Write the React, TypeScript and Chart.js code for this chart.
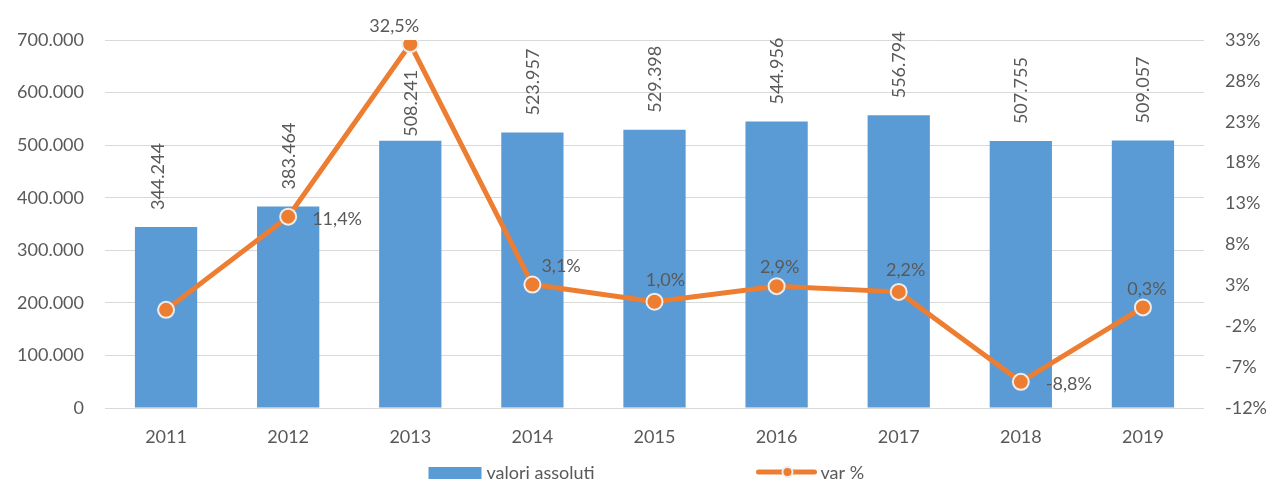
import React, { useEffect, useRef } from "react";
import { Chart, registerables } from "chart.js";

Chart.register(...registerables);

const categories = ["2011", "2012", "2013", "2014", "2015", "2016", "2017", "2018", "2019"];
const valoriAssoluti = [344244, 383464, 508241, 523957, 529398, 544956, 556794, 507755, 509057];
const varPercent = [0, 11.4, 32.5, 3.1, 1.0, 2.9, 2.2, -8.8, 0.3];
const varLabels = ["", "11,4%", "32,5%", "3,1%", "1,0%", "2,9%", "2,2%", "-8,8%", "0,3%"];
const leftTicks = { min: 0, max: 700000, step: 100000 };
const rightTicks = { min: -12, max: 33, step: 5 };

const BLUE = "#5B9BD5";
const ORANGE = "#ED7D31";
const TEXT = "#595959";
const FONT = "Lato";
const FS = 18;

const fmtThousands = (v: number) => String(Math.round(v)).replace(/\B(?=(\d{3})+(?!\d))/g, ".");

// label placement for line labels: [align, dx, dy]
const linePlacement: [CanvasTextAlign, number, number][] = [
  ["center", 0, 0],
  ["left", 24, 2],
  ["center", -16, -19],
  ["left", 9, -19],
  ["center", 11, -22],
  ["center", 3, -20],
  ["center", 7, -22],
  ["left", 25, 2],
  ["center", 4, -19],
];

const labelsPlugin = {
  id: "customLabels",
  afterDatasetsDraw(chart: any) {
    const ctx = chart.ctx;
    const capH = FS * 0.72;
    ctx.save();
    ctx.font = `${FS}px ${FONT}`;
    ctx.fillStyle = TEXT;
    // bar labels
    const barMeta = chart.getDatasetMeta(0);
    barMeta.data.forEach((el: any, i: number) => {
      const gap = i === 2 ? 4 : 17;
      const dx = i === 0 ? -9 : 0;
      ctx.save();
      ctx.translate(el.x + dx, el.y - gap);
      ctx.rotate(-Math.PI / 2);
      ctx.textAlign = "left";
      ctx.textBaseline = "alphabetic";
      ctx.fillText(fmtThousands(valoriAssoluti[i]), 0, capH / 2);
      ctx.restore();
    });
    // line labels
    const lineMeta = chart.getDatasetMeta(1);
    lineMeta.data.forEach((el: any, i: number) => {
      const t = varLabels[i];
      if (!t) return;
      const [al, dx, dy] = linePlacement[i];
      ctx.textAlign = al;
      ctx.textBaseline = "alphabetic";
      ctx.fillText(t, el.x + dx, el.y + dy + capH / 2);
    });
    ctx.restore();
  },
  afterDraw(chart: any) {
    const ctx = chart.ctx;
    const ca = chart.chartArea;
    const cx = (ca.left + ca.right) / 2;
    const y = 473;
    ctx.save();
    ctx.font = `${FS}px ${FONT}`;
    ctx.fillStyle = TEXT;
    ctx.textBaseline = "middle";
    ctx.textAlign = "left";
    // bar legend
    const x1 = cx - 226;
    ctx.fillStyle = BLUE;
    ctx.fillRect(x1, y - 6, 53, 12);
    ctx.fillStyle = TEXT;
    ctx.fillText("valori assoluti", x1 + 58, y);
    // line legend
    const x2 = cx + 104;
    ctx.strokeStyle = ORANGE;
    ctx.lineWidth = 5;
    ctx.lineCap = "round";
    ctx.beginPath();
    ctx.moveTo(x2, y - 1);
    ctx.lineTo(x2 + 56, y - 1);
    ctx.stroke();
    ctx.beginPath();
    ctx.arc(x2 + 29, y - 1, 5, 0, Math.PI * 2);
    ctx.fillStyle = ORANGE;
    ctx.fill();
    ctx.lineWidth = 2;
    ctx.strokeStyle = "#EDEDED";
    ctx.stroke();
    ctx.fillStyle = TEXT;
    ctx.fillText("var %", x2 + 62, y);
    ctx.restore();
  },
};

export default function App() {
  const ref = useRef<HTMLCanvasElement | null>(null);
  useEffect(() => {
    if (!ref.current) return;
    const chart = new Chart(ref.current, {
      type: "bar",
      data: {
        labels: categories,
        datasets: [
          {
            type: "bar",
            label: "valori assoluti",
            data: valoriAssoluti,
            backgroundColor: BLUE,
            yAxisID: "y",
            barPercentage: 0.51,
            categoryPercentage: 1,
            order: 2,
          },
          {
            type: "line",
            label: "var %",
            data: varPercent,
            borderColor: ORANGE,
            borderWidth: 5,
            backgroundColor: ORANGE,
            pointBackgroundColor: ORANGE,
            pointBorderColor: "#EDEDED",
            pointBorderWidth: 2,
            pointRadius: 8,
            tension: 0,
            yAxisID: "y1",
            order: 1,
          } as any,
        ],
      },
      options: {
        animation: false,
        responsive: true,
        maintainAspectRatio: false,
        layout: { padding: { top: 40, left: 0, right: 0, bottom: 0 } },
        plugins: {
          legend: { display: false },
          tooltip: { enabled: false },
        },
        scales: {
          x: {
            grid: { display: false },
            border: { display: false },
            ticks: { color: TEXT, font: { family: FONT, size: FS }, padding: 10 },
            afterFit: (s: any) => {
              s.height = 73;
            },
          },
          y: {
            position: "left",
            min: leftTicks.min,
            max: leftTicks.max,
            grid: { color: "#D9D9D9", lineWidth: 1, drawTicks: false },
            border: { display: false },
            ticks: {
              stepSize: leftTicks.step,
              color: TEXT,
              font: { family: FONT, size: FS },
              padding: 21,
              callback: (v: any) => fmtThousands(Number(v)),
            },
            afterFit: (s: any) => {
              s.width = 105;
            },
          },
          y1: {
            position: "right",
            min: rightTicks.min,
            max: rightTicks.max,
            grid: { display: false, drawTicks: false },
            border: { display: false },
            ticks: {
              stepSize: rightTicks.step,
              color: TEXT,
              font: { family: FONT, size: FS },
              padding: 21,
              callback: (v: any) => `${v}%`,
            },
            afterFit: (s: any) => {
              s.width = 65;
            },
          },
        },
      },
      plugins: [labelsPlugin],
    });
    return () => chart.destroy();
  }, []);
  return (
    <div style={{ position: "absolute", left: 0, top: 0, width: 1269, height: 481, background: "#fff" }}>
      <canvas ref={ref} />
    </div>
  );
}
